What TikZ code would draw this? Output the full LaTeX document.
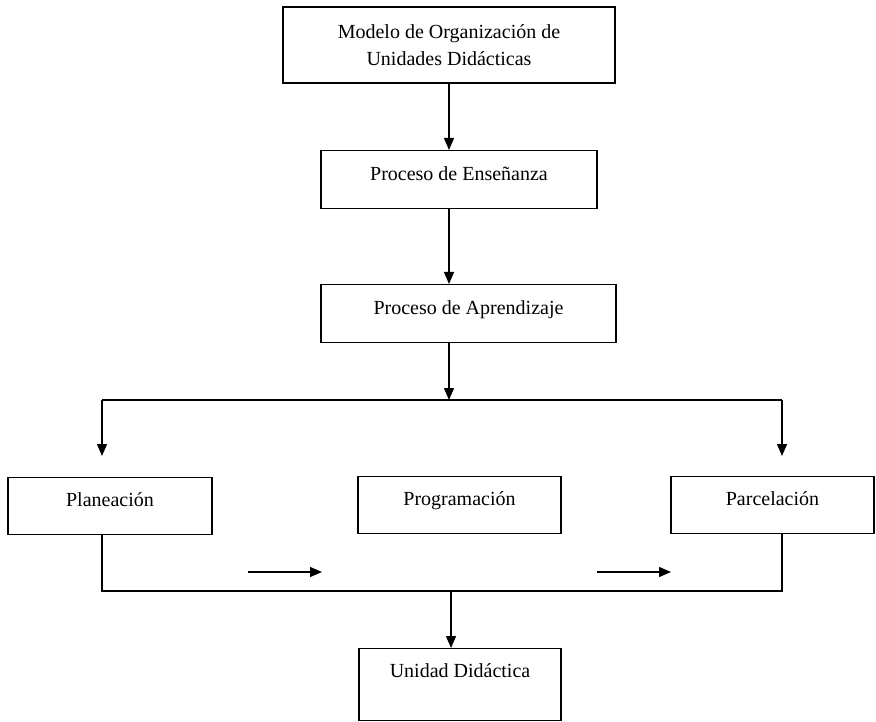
\documentclass[tikz,border=0pt]{standalone}
\usepackage{fontspec}
\setmainfont{Liberation Serif}
\usetikzlibrary{arrows.meta}
\begin{document}
\begin{tikzpicture}[x=1pt,y=-1pt,
  every node/.style={font=\fontsize{20}{27}\selectfont},
  box/.style={draw, line width=1.3pt, inner sep=0pt, anchor=north},
  conn/.style={line width=1.3pt},
  arr/.style={line width=1.3pt, -{Triangle[length=12pt,width=10pt]}}]
\useasboundingbox (0,0) rectangle (876,722);
% boxes
\node[draw, line width=1.3pt, inner sep=0pt, minimum width=332pt, minimum height=76pt, align=center] (mod) at (449,45) {Modelo de Organización de\\Unidades Didácticas};
\node[box, minimum width=276pt, text height=30pt, text depth=28pt] (ens) at (459,150) {Proceso de Enseñanza};
\node[box, minimum width=295pt, text height=30pt, text depth=28pt] (apr) at (468.5,284) {Proceso de Aprendizaje};
\node[box, minimum width=204pt, text height=29pt, text depth=28pt] (pla) at (110,477) {Planeación};
\node[box, minimum width=203pt, text height=29pt, text depth=28pt] (pro) at (459.5,476) {Programación};
\node[box, minimum width=203pt, text height=29pt, text depth=28pt] (par) at (772.5,476) {Parcelación};
\node[box, minimum width=202pt, text height=29pt, text depth=43pt] (uni) at (460,648) {Unidad Didáctica};
% coordinates
\coordinate (hub) at (449,400);
\coordinate (hl) at (102,400);
\coordinate (hr) at (782,400);
\coordinate (tl) at (102,456);
\coordinate (tr) at (782,456);
\coordinate (bl) at (102,591);
\coordinate (br) at (782,591);
\coordinate (bc) at (451,591);
\coordinate (a1s) at (248,572);
\coordinate (a1e) at (322,572);
\coordinate (a2s) at (597,572);
\coordinate (a2e) at (671,572);
% connectors
\draw[arr] (mod.south) -- (mod.south |- ens.north);
\draw[arr] (mod.south |- ens.south) -- (mod.south |- apr.north);
\draw[arr] (mod.south |- apr.south) -- (hub);
\draw[conn] (hl) -- (hr);
\draw[arr] (hl) -- (tl);
\draw[arr] (hr) -- (tr);
\draw[conn] (pla.south -| bl) -- (bl) -- (br) -- (par.south -| br);
\draw[arr] (bc) -- (bc |- uni.north);
\draw[arr] (a1s) -- (a1e);
\draw[arr] (a2s) -- (a2e);
\end{tikzpicture}
\end{document}
